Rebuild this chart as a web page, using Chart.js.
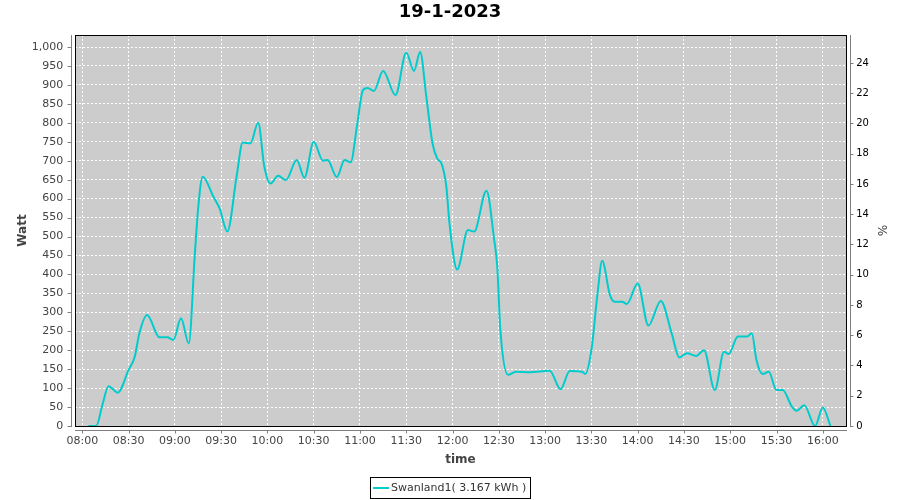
<!DOCTYPE html>
<html>
<head>
<meta charset="utf-8">
<script src="https://cdn.jsdelivr.net/npm/chart.js@4.4.1/dist/chart.umd.min.js"></script>
<style>
html,body{margin:0;padding:0;background:#fff;}
#wrap{width:900px;height:500px;}
</style>
</head>
<body>
<div id="wrap"><canvas id="c" width="900" height="500"></canvas></div>
<script>
const chartTitle = '19-1-2023';
const seriesLabel = 'Swanland1( 3.167 kWh )';

const times = [
  '08:04','08:09','08:13','08:17','08:23','08:30','08:34','08:37','08:42','08:50',
  '08:55','08:59','09:04','09:09','09:13','09:15','09:18','09:25','09:29','09:34',
  '09:40','09:44','09:49','09:54','09:58','10:02','10:07','10:12','10:19','10:24',
  '10:30','10:36','10:39','10:45','10:50','10:54','10:58','11:02','11:05','11:09',
  '11:15','11:23','11:30','11:35','11:39','11:43','11:47','11:50','11:53','11:56',
  '11:58','12:03','12:10','12:14','12:22','12:27','12:29','12:31','12:36','12:41',
  '12:50','13:03','13:10','13:16','13:24','13:26','13:30','13:34','13:37','13:42',
  '13:45','13:50','13:53','14:00','14:07','14:15','14:22','14:27','14:32','14:38',
  '14:43','14:50','14:56','14:59','15:05','15:11','15:14','15:17','15:21','15:25',
  '15:30','15:34','15:40','15:43','15:48','15:55','16:00','16:05'
];
const watts = [
  0,0,55,105,88,148,183,245,293,234,
  234,227,284,218,456,570,658,605,574,513,
  658,748,746,800,684,640,660,649,702,655,
  750,700,702,657,702,696,790,887,892,884,
  937,873,985,937,987,869,746,706,691,631,
  535,413,517,513,621,491,420,253,135,143,
  142,146,97,145,143,137,200,350,436,346,
  328,328,322,376,265,330,245,181,192,185,
  200,95,196,190,236,236,245,174,137,143,
  95,95,51,40,55,0,49,0
];

const timeTickLabels = ['08:00','08:30','09:00','09:30','10:00','10:30','11:00','11:30','12:00',
  '12:30','13:00','13:30','14:00','14:30','15:00','15:30','16:00'];
const wattTicks = [0,50,100,150,200,250,300,350,400,450,500,550,600,650,700,750,800,850,900,950,1000];
const pctTicks = [0,2,4,6,8,10,12,14,16,18,20,22,24];

const toMin = s => { const p = s.split(':').map(Number); return p[0]*60 + p[1]; };
const fmtTime = m => String(Math.floor(m/60)).padStart(2,'0') + ':' + String(Math.round(m%60)).padStart(2,'0');

const LINE_COLOR = 'rgb(0,204,204)';
const AXIS_GRAY = '#808080';

const decor = {
  id: 'decor',
  beforeDraw(chart) {
    const {ctx, chartArea: a} = chart;
    ctx.save();
    ctx.fillStyle = '#ffffff';
    ctx.fillRect(0, 0, chart.width, chart.height);
    ctx.fillStyle = '#cccccc';
    ctx.fillRect(a.left, a.top, a.right - a.left + 1, a.bottom - a.top + 1);
    ctx.restore();
  },
  beforeDatasetsDraw(chart) {
    const {ctx, chartArea: a} = chart;
    ctx.save();
    ctx.strokeStyle = '#000';
    ctx.lineWidth = 1;
    ctx.strokeRect(a.left + 0.5, a.top + 0.5, a.right - a.left, a.bottom - a.top);
    ctx.restore();
  },
  afterDraw(chart) {
    const {ctx, chartArea: a} = chart;
    const sx = chart.scales.x, sy = chart.scales.y, sy2 = chart.scales.y2;
    ctx.save();
    ctx.strokeStyle = AXIS_GRAY;
    ctx.lineWidth = 1;
    ctx.beginPath();
    // left axis
    const lx = a.left - 4 + 0.5;
    ctx.moveTo(lx, a.top); ctx.lineTo(lx, a.bottom + 1);
    sy.ticks.forEach(t => { const p = Math.round(sy.getPixelForValue(t.value)) + 0.5; ctx.moveTo(lx - 4, p); ctx.lineTo(lx, p); });
    // right axis
    const rx = a.right + 4 + 0.5;
    ctx.moveTo(rx, a.top); ctx.lineTo(rx, a.bottom + 1);
    sy2.ticks.forEach(t => { const p = Math.round(sy2.getPixelForValue(t.value)) + 0.5; ctx.moveTo(rx, p); ctx.lineTo(rx + 3, p); });
    // bottom axis
    const by = a.bottom + 4 + 0.5;
    ctx.moveTo(a.left, by); ctx.lineTo(a.right + 1, by);
    sx.ticks.forEach(t => { const p = Math.round(sx.getPixelForValue(t.value)) + 0.5; ctx.moveTo(p, by); ctx.lineTo(p, by + 3); });
    ctx.stroke();

    // legend
    const ds = chart.data.datasets[0];
    ctx.font = '11px "DejaVu Sans"';
    const tw = ctx.measureText(ds.label).width;
    const boxW = Math.round(tw + 25);
    const bx = Math.round(450 - boxW / 2) + 0.5;
    const bTop = 477.5, bH = 21;
    ctx.strokeStyle = '#000';
    ctx.strokeRect(bx, bTop, boxW, bH);
    ctx.strokeStyle = ds.borderColor;
    ctx.lineWidth = 2;
    ctx.beginPath();
    ctx.moveTo(bx + 2.5, 488); ctx.lineTo(bx + 18.5, 488);
    ctx.stroke();
    ctx.fillStyle = '#333';
    ctx.textBaseline = 'middle';
    ctx.textAlign = 'left';
    ctx.fillText(ds.label, bx + 20.5, 488);
    ctx.restore();
  }
};

const gridOpts = { color: '#ffffff', lineWidth: 1, borderDash: [2, 2], drawTicks: false };

new Chart(document.getElementById('c'), {
  type: 'line',
  data: {
    datasets: [{
      label: seriesLabel,
      data: times.map((t, i) => ({ x: toMin(t), y: watts[i] })),
      borderColor: LINE_COLOR,
      backgroundColor: LINE_COLOR,
      borderWidth: 2,
      pointRadius: 0,
      fill: false,
      cubicInterpolationMode: 'monotone',
      xAxisID: 'x',
      yAxisID: 'y'
    }]
  },
  options: {
    responsive: false,
    animation: false,
    devicePixelRatio: 1,
    layout: { padding: { top: 0, left: 0, right: 0, bottom: 24 } },
    plugins: {
      legend: { display: false },
      tooltip: { enabled: false },
      title: {
        display: true,
        text: chartTitle,
        color: '#000',
        font: { family: 'DejaVu Sans', size: 18, weight: 'bold', lineHeight: 1.2 },
        padding: { top: 2, bottom: 11.4 }
      }
    },
    scales: {
      x: {
        type: 'linear',
        position: 'bottom',
        min: 475.27,
        max: 975.05,
        afterBuildTicks: s => { s.ticks = timeTickLabels.map(t => ({ value: toMin(t) })); },
        ticks: {
          callback: v => fmtTime(v),
          font: { family: 'DejaVu Sans', size: 11 },
          color: '#444',
          padding: 9,
          maxRotation: 0,
          autoSkip: false
        },
        grid: gridOpts,
        border: { display: false, dash: [2, 2] },
        title: {
          display: true, text: 'time', color: '#444',
          font: { family: 'DejaVu Sans', size: 12, weight: 'bold', lineHeight: 1.2 },
          padding: { top: 0, bottom: 9.4 }
        },
        afterFit: s => { s.height = 50; }
      },
      y: {
        type: 'linear',
        position: 'left',
        min: 0,
        max: 1031.7,
        afterBuildTicks: s => { s.ticks = wattTicks.map(v => ({ value: v })); },
        ticks: {
          callback: v => Number(v).toLocaleString('en-US'),
          font: { family: 'DejaVu Sans', size: 11 },
          color: '#444',
          padding: 11.7,
          autoSkip: false
        },
        grid: gridOpts,
        border: { display: false, dash: [2, 2] },
        title: {
          display: true, text: 'Watt', color: '#444',
          font: { family: 'DejaVu Sans', size: 12, weight: 'bold', lineHeight: 1.2 },
          padding: { top: 15.3, bottom: 0 }
        },
        afterFit: s => { s.width = 75; }
      },
      y2: {
        type: 'linear',
        position: 'right',
        min: 0,
        max: 25.85,
        afterBuildTicks: s => { s.ticks = pctTicks.map(v => ({ value: v })); },
        ticks: {
          font: { family: 'DejaVu Sans', size: 10 },
          color: '#000',
          padding: 10.2,
          autoSkip: false
        },
        grid: { drawOnChartArea: false, drawTicks: false },
        border: { display: false },
        title: {
          display: true, text: '%', color: '#444',
          font: { family: 'DejaVu Sans', size: 12, lineHeight: 1.2 },
          padding: { top: 11.8, bottom: 0 }
        },
        afterFit: s => { s.width = 54; }
      }
    }
  },
  plugins: [decor]
});
</script>
</body>
</html>
